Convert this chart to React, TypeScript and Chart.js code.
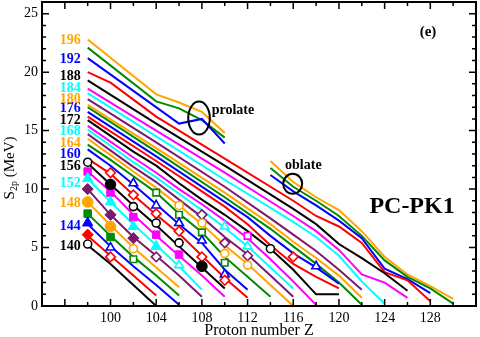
import React, { useEffect, useRef } from 'react';
import { Chart, registerables } from 'chart.js';
Chart.register(...registerables);

// Axis ranges and tick labels
const Z_MIN = 94;
const Z_MAX = 132;
const S_MIN = 0;
const S_MAX = 26;
const xTickLabels = [100, 104, 108, 112, 116, 120, 124, 128];
const yTickLabels = [0, 5, 10, 15, 20, 25];

// Isotone S2p curves (Z, S2p in MeV), PC-PK1
const n140 = [[98, 5.2], [100, 3.6], [102, 1.8], [104, 0.0]];
const n142 = [[98, 6.0], [100, 4.3], [102, 2.6], [104, 0.9]];
const n144 = [[98, 7.0], [100, 5.1], [102, 3.4], [104, 1.8], [106, 0.1]];
const n146 = [[98, 7.9], [100, 6.0], [102, 4.2], [104, 2.6], [106, 0.9]];
const n148 = [[98, 8.9], [100, 6.9], [102, 5.0], [104, 3.3], [106, 1.6]];
const n150 = [[98, 10.0], [100, 7.8], [102, 5.9], [104, 4.3], [106, 2.6], [108, 0.8]];
const n152 = [[98, 10.9], [100, 8.9], [102, 7.0], [104, 5.2], [106, 3.4], [108, 1.4]];
const n154 = [[98, 11.5], [100, 9.8], [102, 7.8], [104, 6.0], [106, 4.3], [108, 2.6], [110, 0.8]];
const n156 = [[98, 12.2], [100, 10.4], [102, 8.6], [104, 6.9], [106, 5.1], [108, 3.3], [110, 1.5]];
const n158 = [[98, 12.6], [100, 11.3], [102, 9.5], [104, 7.8], [106, 6.2], [108, 4.3], [110, 2.4], [112, 0.7]];
const n160 = [[98, 13.4], [100, 12.0], [102, 10.4], [104, 8.7], [106, 7.0], [108, 5.4], [110, 3.1], [112, 1.4]];
const n162 = [[98, 13.8], [100, 12.5], [102, 11.1], [104, 9.7], [106, 7.9], [108, 6.3], [110, 4.2], [112, 2.5], [114, 0.8]];
const n164 = [[98, 14.3], [100, 12.9], [102, 11.5], [104, 10.1], [106, 8.6], [108, 7.0], [110, 5.2], [112, 3.6], [114, 1.8], [116, 0.0]];
const n166 = [[98, 14.7], [102, 11.9], [104, 10.6], [106, 9.1], [108, 7.6], [110, 5.9], [112, 4.4], [114, 2.6], [116, 0.8]];
const n168 = [[98, 15.1], [102, 12.3], [104, 11.0], [106, 9.6], [108, 8.2], [110, 6.7], [112, 5.1], [114, 3.3], [116, 1.5]];
const n170 = [[98, 15.4], [102, 12.7], [104, 11.4], [106, 10.0], [108, 8.7], [110, 7.3], [112, 5.8], [114, 4.0], [116, 2.1], [118, 0.1]];
const n172 = [[98, 15.9], [102, 13.2], [104, 12.0], [106, 10.5], [108, 9.1], [110, 7.8], [112, 6.4], [114, 4.9], [116, 3.1], [118, 1.0], [120, 1.0]];
const n174 = [[98, 16.2], [104, 12.4], [108, 9.8], [110, 8.5], [112, 7.0], [114, 5.2], [116, 3.6], [118, 2.5], [120, 1.5]];
const n176 = [[98, 16.6], [104, 12.8], [110, 8.9], [112, 7.6], [114, 6.0], [116, 4.5], [118, 3.3], [120, 1.9]];
const n178 = [[98, 17.0], [104, 13.2], [110, 9.3], [114, 6.6], [116, 5.1], [118, 3.6], [120, 2.0], [122, 0.1]];
const n180 = [[98, 17.2], [104, 13.5], [110, 9.7], [114, 7.0], [116, 5.5], [118, 4.1], [120, 2.6], [122, 0.7]];
const n182 = [[98, 17.7], [104, 14.0], [110, 10.2], [114, 7.5], [116, 6.1], [118, 4.7], [120, 3.1], [122, 1.4]];
const n184 = [[98, 18.2], [104, 14.5], [110, 10.8], [116, 7.2], [118, 5.9], [120, 4.3], [122, 2.1], [124, 0.2]];
const n186 = [[98, 18.6], [104, 15.0], [110, 11.4], [116, 7.7], [118, 6.4], [120, 4.8], [122, 2.7], [124, 2.0], [126, 0.7]];
const n188 = [[98, 19.3], [104, 15.6], [110, 12.0], [116, 8.3], [118, 7.0], [120, 5.3], [122, 4.1], [124, 2.8], [126, 1.3]];
const n190 = [[98, 20.0], [100, 19.1], [104, 16.2], [110, 12.6], [116, 9.0], [118, 7.7], [120, 6.8], [122, 5.4], [124, 2.9], [126, 2.2], [128, 0.4]];
const n192Prolate = [[98, 21.2], [106, 15.6], [108, 16.0], [110, 13.9]];
const n192Oblate = [[114, 11.2], [116, 9.8], [118, 8.6], [120, 7.3], [122, 5.8], [124, 3.2], [126, 2.3], [128, 1.1]];
const n194Prolate = [[98, 22.1], [104, 17.5], [106, 16.9], [108, 15.9], [110, 14.4]];
const n194Oblate = [[114, 11.8], [116, 10.2], [118, 9.0], [120, 7.7], [122, 6.0], [124, 3.9], [126, 2.5], [128, 1.5], [130, 0.2]];
const n196Prolate = [[98, 22.8], [104, 18.1], [106, 17.4], [108, 16.6], [110, 14.8]];
const n196Oblate = [[114, 12.4], [116, 10.6], [118, 9.3], [120, 8.2], [122, 6.4], [124, 4.2], [126, 2.7], [128, 1.7], [130, 0.6]];

// Experimental (filled) and extrapolated (open) values
const blackCircleFilled = [[100, 10.4], [108, 3.4]];
const blackCircleOpen = [[98, 5.3], [98, 12.3], [102, 8.5], [104, 7.1], [106, 5.4], [114, 4.9]];
const redDiamondFilled = [[98, 6.1]];
const redDiamondOpen = [[100, 4.2], [100, 11.4], [102, 9.5], [104, 7.9], [106, 6.4], [108, 4.2], [110, 2.2], [116, 4.2]];
const blueTriangleFilled = [[98, 7.1]];
const blueTriangleOpen = [[100, 5.0], [102, 10.5], [104, 8.6], [106, 7.1], [108, 5.6], [110, 2.7], [118, 3.4]];
const greenSquareFilled = [[98, 7.9], [100, 5.9]];
const greenSquareOpen = [[102, 4.0], [104, 9.7], [106, 7.8], [108, 6.3], [110, 3.7]];
const orangeCircleFilled = [[98, 8.9], [100, 6.8]];
const orangeCircleOpen = [[102, 4.9], [106, 8.6], [108, 7.1], [110, 4.5], [112, 3.5]];
const purpleDiamondFilled = [[98, 10.0], [100, 7.8], [102, 5.8]];
const purpleDiamondOpen = [[104, 4.2], [108, 7.8], [110, 5.4], [112, 4.3]];
const cyanTriangleFilled = [[98, 10.9], [100, 8.9], [102, 6.8], [104, 5.1]];
const cyanTriangleOpen = [[106, 3.5], [110, 6.8], [112, 5.1]];
const magentaSquareFilled = [[98, 11.5], [100, 9.7], [102, 7.6], [104, 6.1], [106, 4.4]];
const magentaSquareOpen = [[112, 6.0]];

// Neutron-number labels at the left and their S2p positions
const labelN = [140, 144, 148, 152, 156, 160, 164, 168, 172, 176, 180, 184, 188, 192, 196];
const labelS = [5.1, 6.8, 8.8, 10.5, 11.9, 13.0, 13.9, 14.9, 15.9, 16.9, 17.7, 18.6, 19.6, 21.1, 22.7];

const COLORS: Record<string, string> = {
  black: '#000000',
  red: '#ff0000',
  blue: '#0000ff',
  green: '#008b00',
  orange: '#ffa500',
  purple: '#7a1a6e',
  cyan: '#00ffff',
  magenta: '#ff00ff',
};
const CYCLE = ['black', 'red', 'blue', 'green', 'orange', 'purple', 'cyan', 'magenta'];
const colorForN = (n: number) => COLORS[CYCLE[((n - 140) / 2) % 8]];

const lineSeries: Array<[number, number[][]]> = [
  [140, n140], [142, n142], [144, n144], [146, n146], [148, n148], [150, n150],
  [152, n152], [154, n154], [156, n156], [158, n158], [160, n160], [162, n162],
  [164, n164], [166, n166], [168, n168], [170, n170], [172, n172], [174, n174],
  [176, n176], [178, n178], [180, n180], [182, n182], [184, n184], [186, n186],
  [188, n188], [190, n190], [192, n192Prolate], [192, n192Oblate],
  [194, n194Prolate], [194, n194Oblate], [196, n196Prolate], [196, n196Oblate],
];

const markerSets = [
  { color: 'black', style: 'circle', filled: blackCircleFilled, open: blackCircleOpen },
  { color: 'red', style: 'rectRot', filled: redDiamondFilled, open: redDiamondOpen },
  { color: 'blue', style: 'triangle', filled: blueTriangleFilled, open: blueTriangleOpen },
  { color: 'green', style: 'rect', filled: greenSquareFilled, open: greenSquareOpen },
  { color: 'orange', style: 'circle', filled: orangeCircleFilled, open: orangeCircleOpen },
  { color: 'purple', style: 'rectRot', filled: purpleDiamondFilled, open: purpleDiamondOpen },
  { color: 'cyan', style: 'triangle', filled: cyanTriangleFilled, open: cyanTriangleOpen },
  { color: 'magenta', style: 'rect', filled: magentaSquareFilled, open: magentaSquareOpen },
];

const FILLED_R: Record<string, number> = { circle: 5.3, rectRot: 5.6, triangle: 6, rect: 5.3 };
const OPEN_R: Record<string, number> = { circle: 4, rectRot: 4.8, triangle: 5, rect: 4.6 };

const SERIF = '"Liberation Serif", "Times New Roman", serif';

const toXY = (pts: number[][]) => pts.map(([x, y]) => ({ x, y }));

const decorPlugin = {
  id: 'decor',
  afterDraw(chart: any) {
    const { ctx, chartArea: a, scales } = chart;
    const xs = scales.x;
    const ys = scales.y;
    ctx.save();
    ctx.strokeStyle = '#000';
    ctx.lineWidth = 1.5;
    // x ticks (inward, top and bottom)
    for (let z = 96; z <= 130; z += 2) {
      const px = xs.getPixelForValue(z);
      const len = z % 4 === 0 ? 7 : 4;
      ctx.beginPath();
      ctx.moveTo(px, a.bottom);
      ctx.lineTo(px, a.bottom - len);
      ctx.moveTo(px, a.top);
      ctx.lineTo(px, a.top + len);
      ctx.stroke();
    }
    // y ticks (inward, left and right)
    for (let s = 1; s <= 25; s += 1) {
      const py = ys.getPixelForValue(s);
      const len = s % 5 === 0 ? 7 : 4;
      ctx.beginPath();
      ctx.moveTo(a.left, py);
      ctx.lineTo(a.left + len, py);
      ctx.moveTo(a.right, py);
      ctx.lineTo(a.right - len, py);
      ctx.stroke();
    }
    // frame
    ctx.lineWidth = 2;
    ctx.strokeRect(a.left, a.top, a.right - a.left, a.bottom - a.top);

    // N labels
    ctx.font = `bold 14px ${SERIF}`;
    ctx.textAlign = 'right';
    ctx.textBaseline = 'middle';
    labelN.forEach((n, i) => {
      ctx.fillStyle = colorForN(n);
      ctx.fillText(String(n), xs.getPixelForValue(97.4), ys.getPixelForValue(labelS[i]));
    });

    // annotations
    ctx.fillStyle = '#000';
    ctx.textAlign = 'center';
    ctx.font = `bold 15px ${SERIF}`;
    ctx.fillText('(e)', xs.getPixelForValue(127.8), ys.getPixelForValue(23.46));
    ctx.font = `bold 24px ${SERIF}`;
    ctx.fillText('PC-PK1', xs.getPixelForValue(126.4), ys.getPixelForValue(8.48));
    ctx.textAlign = 'left';
    ctx.font = `bold 14px ${SERIF}`;
    ctx.fillText('prolate', xs.getPixelForValue(108.86), ys.getPixelForValue(16.72));
    ctx.fillText('oblate', xs.getPixelForValue(115.28), ys.getPixelForValue(12.01));

    // ellipses
    ctx.lineWidth = 2;
    ctx.beginPath();
    ctx.ellipse(xs.getPixelForValue(107.75), ys.getPixelForValue(16.07), 10.8, 16.5, 0, 0, Math.PI * 2);
    ctx.stroke();
    ctx.beginPath();
    ctx.ellipse(xs.getPixelForValue(115.95), ys.getPixelForValue(10.45), 9.5, 10, 0, 0, Math.PI * 2);
    ctx.stroke();

    // axis titles
    ctx.font = `16px ${SERIF}`;
    ctx.textAlign = 'center';
    ctx.textBaseline = 'middle';
    ctx.fillText('Proton number Z', (a.left + a.right) / 2, 331);

    ctx.save();
    ctx.translate(9, 168);
    ctx.rotate(-Math.PI / 2);
    const big = `15px ${SERIF}`;
    const small = `10px ${SERIF}`;
    ctx.font = big;
    const wS = ctx.measureText('S').width;
    const wRest = ctx.measureText(' (MeV)').width;
    ctx.font = small;
    const wSub = ctx.measureText('2p').width;
    const total = wS + wSub + wRest;
    let cx = -total / 2;
    ctx.textAlign = 'left';
    ctx.textBaseline = 'alphabetic';
    ctx.font = big;
    ctx.fillText('S', cx, 5);
    cx += wS;
    ctx.font = small;
    ctx.fillText('2p', cx, 8);
    cx += wSub;
    ctx.font = big;
    ctx.fillText(' (MeV)', cx, 5);
    ctx.restore();

    ctx.restore();
  },
};

export default function App() {
  const canvasRef = useRef<HTMLCanvasElement | null>(null);

  useEffect(() => {
    if (!canvasRef.current) return;
    const datasets: any[] = [];
    lineSeries.forEach(([n, pts]) => {
      datasets.push({
        data: toXY(pts),
        showLine: true,
        borderColor: colorForN(n),
        borderWidth: 2,
        pointRadius: 0,
        fill: false,
        tension: 0,
        order: 2,
      });
    });
    markerSets.forEach((m) => {
      const c = COLORS[m.color];
      datasets.push({
        data: toXY(m.open),
        showLine: false,
        pointStyle: m.style,
        pointRadius: OPEN_R[m.style],
        pointBackgroundColor: '#ffffff',
        pointBorderColor: c,
        pointBorderWidth: 1.6,
        order: 1,
      });
      datasets.push({
        data: toXY(m.filled),
        showLine: false,
        pointStyle: m.style,
        pointRadius: FILLED_R[m.style],
        pointBackgroundColor: c,
        pointBorderColor: c,
        pointBorderWidth: 1,
        order: 0,
      });
    });

    const chart = new Chart(canvasRef.current, {
      type: 'scatter',
      data: { datasets },
      options: {
        animation: false,
        responsive: true,
        maintainAspectRatio: false,
        devicePixelRatio: 1,
        layout: { autoPadding: false, padding: { top: 2, right: 4, left: 0, bottom: 0 } },
        plugins: { legend: { display: false }, tooltip: { enabled: false } },
        events: [],
        scales: {
          x: {
            type: 'linear',
            min: Z_MIN,
            max: Z_MAX,
            afterBuildTicks: (s: any) => {
              s.ticks = xTickLabels.map((v) => ({ value: v }));
            },
            afterFit: (s: any) => {
              s.height = 31;
              s.paddingLeft = 0;
              s.paddingRight = 0;
              s.paddingTop = 0;
              s.paddingBottom = 0;
            },
            grid: { display: false, drawTicks: false },
            border: { display: false },
            ticks: {
              autoSkip: false,
              maxRotation: 0,
              padding: 4,
              color: '#000',
              font: { family: SERIF, size: 14 },
              callback: (v: any) => String(v),
            },
          },
          y: {
            type: 'linear',
            min: S_MIN,
            max: S_MAX,
            afterBuildTicks: (s: any) => {
              s.ticks = yTickLabels.map((v) => ({ value: v }));
            },
            afterFit: (s: any) => {
              s.width = 42;
              s.paddingLeft = 0;
              s.paddingRight = 0;
              s.paddingTop = 0;
              s.paddingBottom = 0;
            },
            grid: { display: false, drawTicks: false },
            border: { display: false },
            ticks: {
              autoSkip: false,
              padding: 4,
              color: '#000',
              font: { family: SERIF, size: 14 },
              callback: (v: any) => String(v),
            },
          },
        },
      } as any,
      plugins: [decorPlugin],
    });
    return () => chart.destroy();
  }, []);

  return (
    <div style={{ position: 'absolute', left: 0, top: 0, width: 480, height: 337, background: '#fff' }}>
      <canvas ref={canvasRef} />
    </div>
  );
}
